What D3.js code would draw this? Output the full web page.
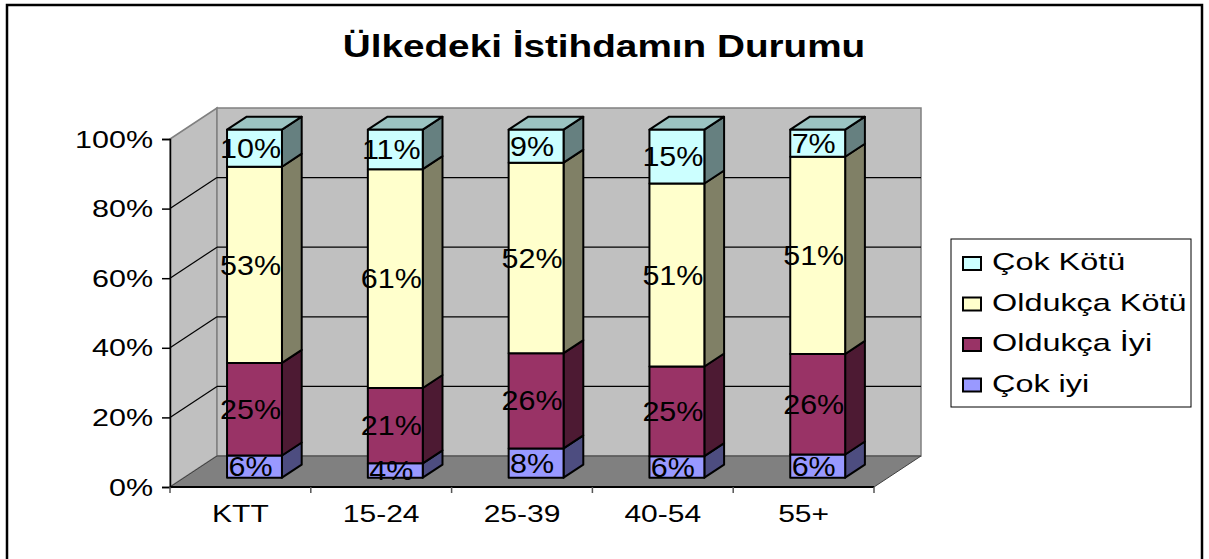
<!DOCTYPE html>
<html>
<head>
<meta charset="utf-8">
<script src="https://cdn.jsdelivr.net/npm/d3@7"></script>
<style>
    body { margin: 0; background: #ffffff; }
    svg { display: block; }
    text { font-family: Arial, "Liberation Sans", sans-serif; fill: #000000; }
</style>
</head>
<body>
<svg id="chart" width="1209" height="559"></svg>
<script>
const title = "Ülkedeki İstihdamın Durumu";
const categories = ["KTT", "15-24", "25-39", "40-54", "55+"];
const seriesNames = ["Çok iyi", "Oldukça İyi", "Oldukça Kötü", "Çok Kötü"];
const cokIyi = [6, 4, 8, 6, 6];
const oldukcaIyi = [25, 21, 26, 25, 26];
const oldukcaKotu = [53, 61, 52, 51, 51];
const cokKotu = [10, 11, 9, 15, 7];
const yTicks = [0, 0.2, 0.4, 0.6, 0.8, 1];

const FRONT = ["#9999ff", "#993366", "#ffffcc", "#ccffff"];
const SIDE = ["#4d4d80", "#4d1a33", "#808066", "#668080"];
const TOP = ["#7a7acc", "#7a2952", "#ccccA3", "#9cc4c2"];

const plot = { left: 170, right: 874, top: 139, bottom: 487 };
const depth = { dx: 47, dy: -31 };
const barZ = [0.3, 0.72];

const svg = d3.select("#chart");

const x = d3.scaleBand()
    .domain(categories)
    .range([plot.left, plot.right])
    .padding(0);

const y = d3.scaleLinear()
    .domain([0, 1])
    .range([plot.bottom, plot.top]);

const barW = x.bandwidth() * 0.39;

function pts(list) {
    return list.map(p => p.join(",")).join(" ");
}

function stretched(sel, px, py, sx) {
    return sel.attr("transform", `translate(${px},${py}) scale(${sx},1)`);
}

// outer border
svg.append("rect")
    .attr("x", 7)
    .attr("y", 5)
    .attr("width", 1195)
    .attr("height", 570)
    .attr("fill", "#ffffff")
    .attr("stroke", "#000000")
    .attr("stroke-width", 2.5);

// title
stretched(svg.append("text"), 604, 57, 1.21)
    .attr("text-anchor", "middle")
    .attr("font-size", 32)
    .attr("font-weight", "bold")
    .text(title);

// walls
const bx0 = plot.left + depth.dx;
const bx1 = plot.right + depth.dx;

svg.append("polygon")
    .attr("points", pts([[plot.left, y(0)], [plot.left, y(1)], [bx0, y(1) + depth.dy], [bx0, y(0) + depth.dy]]))
    .attr("fill", "#c0c0c0")
    .attr("stroke", "#808080")
    .attr("stroke-width", 1.5);

svg.append("rect")
    .attr("x", bx0)
    .attr("y", y(1) + depth.dy)
    .attr("width", bx1 - bx0)
    .attr("height", y(0) - y(1))
    .attr("fill", "#c0c0c0")
    .attr("stroke", "#808080")
    .attr("stroke-width", 1.5);

// gridlines
const inner = yTicks.filter(t => t > 0 && t < 1);
svg.selectAll(".grid-back")
    .data(inner)
    .enter()
    .append("line")
    .attr("x1", bx0)
    .attr("x2", bx1)
    .attr("y1", d => y(d) + depth.dy)
    .attr("y2", d => y(d) + depth.dy)
    .attr("stroke", "#000000")
    .attr("stroke-width", 1.2);

svg.selectAll(".grid-side")
    .data(inner)
    .enter()
    .append("line")
    .attr("x1", plot.left)
    .attr("x2", bx0)
    .attr("y1", d => y(d))
    .attr("y2", d => y(d) + depth.dy)
    .attr("stroke", "#000000")
    .attr("stroke-width", 1.2);

// floor
svg.append("polygon")
    .attr("points", pts([[plot.left, y(0)], [plot.right, y(0)], [bx1, y(0) + depth.dy], [bx0, y(0) + depth.dy]]))
    .attr("fill", "#808080")
    .attr("stroke", "#404040")
    .attr("stroke-width", 1);

// data
const rows = categories.map((c, i) => ({
    cat: c,
    "Çok iyi": cokIyi[i],
    "Oldukça İyi": oldukcaIyi[i],
    "Oldukça Kötü": oldukcaKotu[i],
    "Çok Kötü": cokKotu[i]
}));

const stacked = d3.stack()
    .keys(seriesNames)
    .offset(d3.stackOffsetExpand)(rows);

const fz = barZ[0];
const ddx = (barZ[1] - barZ[0]) * depth.dx;
const ddy = (barZ[1] - barZ[0]) * depth.dy;

const segs = [];
stacked.forEach((layer, si) => {
    layer.forEach(d => {
        const x0 = x(d.data.cat) + (x.bandwidth() - barW) / 2 + fz * depth.dx;
        segs.push({
            si,
            x0,
            x1: x0 + barW,
            yb: y(d[0]) + fz * depth.dy,
            yt: y(d[1]) + fz * depth.dy,
            value: d.data[seriesNames[si]],
            isTop: si === seriesNames.length - 1
        });
    });
});

const bars = svg.append("g")
    .attr("stroke", "#000000")
    .attr("stroke-width", 2)
    .attr("stroke-linejoin", "round");

bars.selectAll(".side")
    .data(segs)
    .enter()
    .append("polygon")
    .attr("points", d => pts([[d.x1, d.yb], [d.x1, d.yt], [d.x1 + ddx, d.yt + ddy], [d.x1 + ddx, d.yb + ddy]]))
    .attr("fill", d => SIDE[d.si]);

bars.selectAll(".top")
    .data(segs.filter(d => d.isTop))
    .enter()
    .append("polygon")
    .attr("points", d => pts([[d.x0, d.yt], [d.x1, d.yt], [d.x1 + ddx, d.yt + ddy], [d.x0 + ddx, d.yt + ddy]]))
    .attr("fill", d => TOP[d.si]);

bars.selectAll(".front")
    .data(segs)
    .enter()
    .append("rect")
    .attr("x", d => d.x0)
    .attr("y", d => d.yt)
    .attr("width", barW)
    .attr("height", d => d.yb - d.yt)
    .attr("fill", d => FRONT[d.si]);

svg.selectAll(".value-label")
    .data(segs)
    .enter()
    .append("text")
    .attr("class", "value-label")
    .attr("text-anchor", "middle")
    .attr("dy", "0.36em")
    .attr("font-size", 27)
    .attr("transform", d => `translate(${(d.x0 + d.x1) / 2 - 4},${(d.yt + d.yb) / 2}) scale(1.13,1)`)
    .text(d => `${d.value}%`);

// axes
const yAxis = svg.append("g")
    .attr("transform", `translate(${plot.left},0)`)
    .call(d3.axisLeft(y).tickValues(yTicks).tickSize(8).tickFormat(d3.format(".0%")));

yAxis.select(".domain").attr("stroke", "#000000").attr("stroke-width", 1.5);
yAxis.selectAll(".tick line").attr("stroke", "#000000").attr("stroke-width", 1.5);
yAxis.selectAll(".tick text")
    .attr("x", null)
    .attr("dy", null)
    .attr("font-size", 24)
    .attr("font-family", null)
    .attr("transform", "translate(-17,8) scale(1.27,1)");

const xAxis = svg.append("g")
    .attr("transform", `translate(0,${plot.bottom})`);

xAxis.append("line")
    .attr("x1", plot.left)
    .attr("x2", plot.right)
    .attr("stroke", "#000000")
    .attr("stroke-width", 2);

xAxis.selectAll(".xtick")
    .data(categories.concat([null]))
    .enter()
    .append("line")
    .attr("x1", (d, i) => plot.left + i * x.step())
    .attr("x2", (d, i) => plot.left + i * x.step())
    .attr("y1", 0)
    .attr("y2", 6)
    .attr("stroke", "#555555")
    .attr("stroke-width", 1.5);

xAxis.selectAll(".xlabel")
    .data(categories)
    .enter()
    .append("text")
    .attr("text-anchor", "middle")
    .attr("font-size", 24)
    .attr("transform", d => `translate(${x(d) + x.bandwidth() / 2},35) scale(1.25,1)`)
    .text(d => d);

// legend
const legend = svg.append("g")
    .attr("transform", "translate(951,239)");

legend.append("rect")
    .attr("width", 240)
    .attr("height", 168)
    .attr("fill", "#ffffff")
    .attr("stroke", "#000000")
    .attr("stroke-width", 1);

const legendItems = seriesNames.map((name, i) => ({ name, i })).reverse();

const legendRow = legend.selectAll(".legend-row")
    .data(legendItems)
    .enter()
    .append("g")
    .attr("transform", (_, k) => `translate(0,${31 + k * 40.5})`);

legendRow.append("rect")
    .attr("x", 12)
    .attr("y", -13)
    .attr("width", 18)
    .attr("height", 13)
    .attr("fill", d => FRONT[d.i])
    .attr("stroke", "#000000")
    .attr("stroke-width", 2);

legendRow.append("text")
    .attr("font-size", 24)
    .attr("transform", "translate(41,0) scale(1.35,1)")
    .text(d => d.name);
</script>
</body>
</html>
